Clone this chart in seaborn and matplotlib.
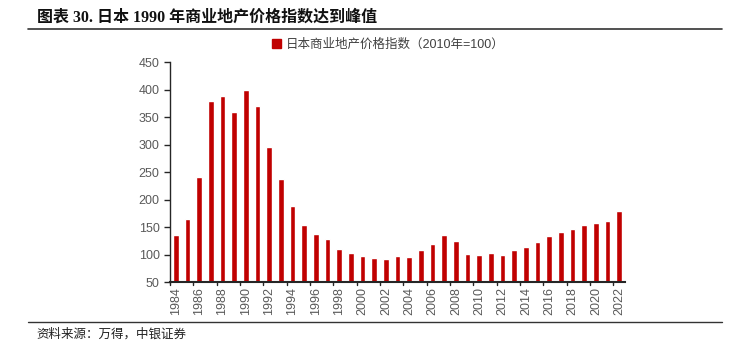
import matplotlib
matplotlib.use("Agg")
import matplotlib.pyplot as plt
from matplotlib.lines import Line2D
from matplotlib.patches import Patch
import seaborn as sns
import pandas as pd

years = [str(y) for y in range(1984, 2023)]
index_values = [135, 165, 241, 379, 389, 359, 400, 370, 296, 238, 189, 154, 137, 128, 110,
                103, 97, 94, 92, 97, 95, 108, 120, 136, 125, 101, 100, 103, 100, 108,
                114, 123, 133, 142, 147, 154, 157, 162, 179]
tick_labels = [y if i % 2 == 0 else "" for i, y in enumerate(years)]
title = "图表 30. 日本 1990 年商业地产价格指数达到峰值"
legend_label = "日本商业地产价格指数（2010年=100）"
source = "资料来源：万得，中银证券"

sns.set_theme(style="white")
plt.rcParams['font.family'] = ['Liberation Sans', 'Noto Sans CJK SC', 'DejaVu Sans']

df = pd.DataFrame({"year": years, "value": index_values})

fig = plt.figure(figsize=(7.5, 3.47), dpi=100)
ax = fig.add_axes([0.2267, 0.187, 0.6067, 0.634])
red = "#C00000"
sns.barplot(data=df, x="year", y="value", color=red, width=0.5, ax=ax, saturation=1)

ax.set_ylim(50, 450)
ax.set_yticks(range(50, 451, 50))
ax.set_xlim(-0.5, len(years) - 0.5)
ax.set_xticks(range(len(years)))
ax.set_xticklabels(tick_labels, rotation=90, fontsize=9, color="#595959")
ax.tick_params(axis="x", length=0)
for i in range(0, len(years) + 1, 2):
    ax.plot([i - 0.5, i - 0.5], [50, 50 - 5], color="#262626", lw=1, clip_on=False, zorder=5)
ax.tick_params(axis="y", labelsize=9, labelcolor="#595959", length=4, width=1,
               color="#262626", left=True, direction="out")
ax.set_xlabel("")
ax.set_ylabel("")
for s in ["top", "right"]:
    ax.spines[s].set_visible(False)
ax.spines["left"].set_color("#262626")
ax.spines["bottom"].set_color("#262626")
ax.spines["left"].set_linewidth(1)
ax.spines["bottom"].set_linewidth(1.5)

ax.legend(handles=[Patch(color=red, label=legend_label)], loc="lower center",
          bbox_to_anchor=(0.48, 1.0), frameon=False, fontsize=9, handlelength=0.7,
          handleheight=0.7, handletextpad=0.4, labelcolor="#404040")

fig.text(0.049, 0.948, title, fontsize=11.5, fontweight="bold",
         family=['Liberation Serif', 'Noto Sans CJK SC'], va="center", ha="left", color="#111111")
fig.add_artist(Line2D([0.037, 0.963], [0.916, 0.916], color="#333333", lw=1.2))
fig.add_artist(Line2D([0.037, 0.963], [0.072, 0.072], color="#333333", lw=1.0))
fig.text(0.049, 0.037, source, fontsize=9, style="italic", va="center", ha="left", color="#222222")

fig.savefig("out.png", dpi=100)
